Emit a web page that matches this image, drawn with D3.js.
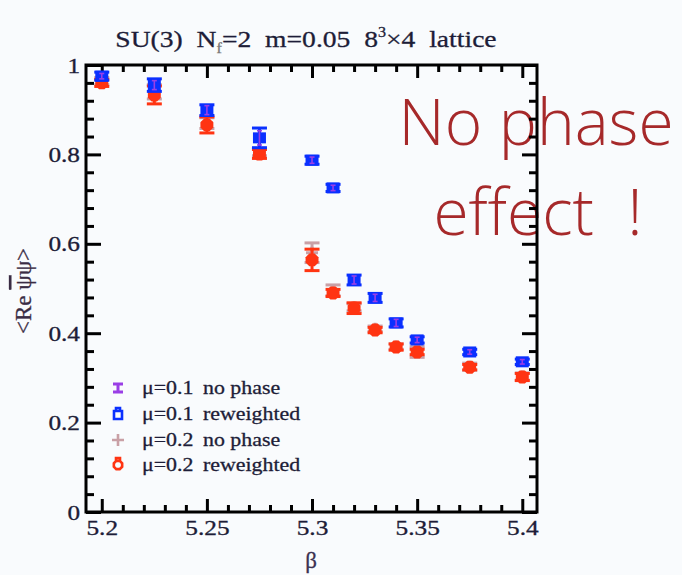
<!DOCTYPE html>
<html>
<head>
<meta charset="utf-8">
<script src="https://cdn.jsdelivr.net/npm/d3@7"></script>
<style>
  html, body { margin: 0; padding: 0; background: #f9fbfd; }
  svg { display: block; }
  text { font-family: "Liberation Serif", "Times New Roman", serif; }
</style>
</head>
<body>
<svg id="chart" width="682" height="575"></svg>
<script>
// Chiral condensate vs beta, SU(3) Nf=2, m=0.05, 8^3x4 lattice
const betas = [5.2, 5.225, 5.25, 5.275, 5.3, 5.31, 5.32, 5.33, 5.34, 5.35, 5.375, 5.4];

const mu01NoPhase    = [0.975, 0.955, 0.899, 0.837, 0.787, 0.725, 0.519, 0.479, 0.423, 0.385, 0.358, 0.336];
const mu01NoPhaseErr = [0.006, 0.010, 0.010, 0.016, 0.007, 0.006, 0.009, 0.008, 0.008, 0.006, 0.005, 0.005];
const mu01Rew        = [0.975, 0.955, 0.899, 0.837, 0.787, 0.725, 0.519, 0.479, 0.423, 0.385, 0.358, 0.336];
const mu01RewErr     = [0.009, 0.014, 0.012, 0.022, 0.009, 0.008, 0.011, 0.010, 0.009, 0.007, 0.006, 0.006];

const mu02NoPhase    = [0.964, 0.940, 0.870, 0.805, 0.580, 0.496, 0.458, 0.410, 0.370, 0.358, 0.325, 0.303];
const mu02NoPhaseErr = [0.008, 0.016, 0.012, 0.008, 0.022, 0.012, 0.008, 0.006, 0.006, 0.012, 0.008, 0.008];
const mu02Rew        = [0.960, 0.933, 0.866, 0.801, 0.564, 0.490, 0.456, 0.407, 0.369, 0.358, 0.324, 0.302];
const mu02RewErr     = [0.008, 0.020, 0.018, 0.010, 0.024, 0.008, 0.012, 0.006, 0.007, 0.006, 0.006, 0.008];

const xTicks = [5.2, 5.25, 5.3, 5.35, 5.4];
const xTickLabels = ["5.2", "5.25", "5.3", "5.35", "5.4"];
const yTicks = [0, 0.2, 0.4, 0.6, 0.8, 1];
const yTickLabels = ["0", "0.2", "0.4", "0.6", "0.8", "1"];
const legendMu = ["\u03bc=0.1", "\u03bc=0.1", "\u03bc=0.2", "\u03bc=0.2"];
const legendKind = ["no phase", "reweighted", "no phase", "reweighted"];

const C = {
  purple: "#9a3ee6",
  blue: "#0a30ff",
  pink: "#c9a0a6",
  red: "#ff3412",
  ink: "#1d1d38",
  note: "#a6292a"
};

const svg = d3.select("#chart");
const x = d3.scaleLinear().domain([5.1925, 5.407]).range([86, 537]);
const y = d3.scaleLinear().domain([0, 1]).range([512, 65]);

// Title
const title = svg.append("text")
  .attr("class", "st")
  .attr("x", 306).attr("y", 47)
  .attr("text-anchor", "middle")
  .attr("font-size", 24)
  .attr("fill", C.ink)
  .attr("stroke", C.ink).attr("stroke-width", 0.3)
  .style("white-space", "pre");
title.append("tspan").text("SU(3)  N");
title.append("tspan").attr("font-size", 14).attr("dy", 6).attr("fill", "#777").attr("stroke", "#777").text("f");
title.append("tspan").attr("dy", -6).text("=2  m=0.05  8");
title.append("tspan").attr("font-size", 14).attr("dy", -10).text("3");
title.append("tspan").attr("dy", 10).text("\u00d74  lattice");

// Annotation (drawn under the frame)
svg.append("text")
  .attr("x", 536).attr("y", 145)
  .attr("text-anchor", "middle")
  .style("font-family", "'Open Sans', 'Noto Sans', sans-serif")
  .attr("font-weight", 300)
  .attr("font-size", 64)
  .attr("fill", C.note)
  .text("No phase");
svg.append("text")
  .attr("x", 538).attr("y", 235)
  .attr("text-anchor", "middle")
  .style("font-family", "'Open Sans', 'Noto Sans', sans-serif")
  .attr("font-weight", 300)
  .attr("font-size", 64)
  .attr("fill", C.note)
  .style("white-space", "pre")
  .text("effect  !");

// Axes: major and minor inward ticks on all four sides
const xMinor = d3.range(5.2, 5.4001, 0.01).filter(v => !xTicks.some(t => Math.abs(t - v) < 1e-6));
const yMinor = d3.range(0, 1.0001, 0.04).filter(v => !yTicks.some(t => Math.abs(t - v) < 1e-6));

function styleAxis(g) {
  g.select(".domain").remove();
  g.selectAll(".tick line").attr("stroke", "#000").attr("stroke-width", 3);
  g.selectAll(".tick text")
    .attr("class", "st")
    .attr("fill", C.ink)
    .attr("stroke", C.ink).attr("stroke-width", 0.35)
    .attr("font-size", 22)
    .style("font-family", "'Liberation Serif', serif");
}

const bottom = svg.append("g").attr("transform", "translate(0,512)")
  .call(d3.axisBottom(x).tickValues(xTicks).tickFormat((d, i) => xTickLabels[i])
    .tickSizeInner(-13).tickSizeOuter(0).tickPadding(7));
styleAxis(bottom);
svg.append("g").attr("transform", "translate(0,512)")
  .call(d3.axisBottom(x).tickValues(xMinor).tickFormat("").tickSizeInner(-7).tickSizeOuter(0))
  .call(styleAxis);
svg.append("g").attr("transform", "translate(0,65)")
  .call(d3.axisTop(x).tickValues(xTicks).tickFormat("").tickSizeInner(-13).tickSizeOuter(0))
  .call(styleAxis);
svg.append("g").attr("transform", "translate(0,65)")
  .call(d3.axisTop(x).tickValues(xMinor).tickFormat("").tickSizeInner(-7).tickSizeOuter(0))
  .call(styleAxis);

const left = svg.append("g").attr("transform", "translate(86,0)")
  .call(d3.axisLeft(y).tickValues(yTicks).tickFormat((d, i) => yTickLabels[i])
    .tickSizeInner(-15).tickSizeOuter(0).tickPadding(6));
styleAxis(left);
svg.append("g").attr("transform", "translate(86,0)")
  .call(d3.axisLeft(y).tickValues(yMinor).tickFormat("").tickSizeInner(-8).tickSizeOuter(0))
  .call(styleAxis);
svg.append("g").attr("transform", "translate(537,0)")
  .call(d3.axisRight(y).tickValues(yTicks).tickFormat("").tickSizeInner(-15).tickSizeOuter(0))
  .call(styleAxis);
svg.append("g").attr("transform", "translate(537,0)")
  .call(d3.axisRight(y).tickValues(yMinor).tickFormat("").tickSizeInner(-8).tickSizeOuter(0))
  .call(styleAxis);

svg.append("rect")
  .attr("x", x.range()[0]).attr("y", y.range()[1])
  .attr("width", x.range()[1] - x.range()[0])
  .attr("height", y.range()[0] - y.range()[1])
  .attr("fill", "none").attr("stroke", "#000").attr("stroke-width", 3);

// Axis titles
const yl = svg.append("text")
  .attr("transform", "translate(31,291) rotate(-90)")
  .attr("text-anchor", "middle")
  .attr("font-size", 23)
  .attr("fill", "#3a2c44")
  .attr("stroke", "#3a2c44").attr("stroke-width", 0.3)
  .style("white-space", "pre");
yl.append("tspan").text("<Re ");
yl.append("tspan").style("text-decoration", "overline").text("\u03c8");
yl.append("tspan").text("\u03c8>");

svg.append("text")
  .attr("x", 311).attr("y", 568)
  .attr("text-anchor", "middle")
  .attr("font-size", 23)
  .attr("fill", "#3a3050")
  .attr("stroke", "#3a3050").attr("stroke-width", 0.3)
  .text("\u03b2");

// Data marks
const plot = svg.append("g");

function errorBars(vals, errs, color, capW, sw) {
  const g = plot.append("g").attr("stroke", color).attr("stroke-width", sw).attr("fill", "none");
  betas.forEach((b, i) => {
    const cx = x(b), y0 = y(vals[i] - errs[i]), y1 = y(vals[i] + errs[i]);
    g.append("line").attr("x1", cx).attr("x2", cx).attr("y1", y0).attr("y2", y1);
    g.append("line").attr("x1", cx - capW / 2).attr("x2", cx + capW / 2).attr("y1", y0).attr("y2", y0);
    g.append("line").attr("x1", cx - capW / 2).attr("x2", cx + capW / 2).attr("y1", y1).attr("y2", y1);
  });
}

function octagon(r) {
  const pts = d3.range(8).map(k => {
    const a = Math.PI / 8 + k * Math.PI / 4;
    return [r * Math.cos(a), r * Math.sin(a)];
  });
  return "M" + pts.map(p => p.join(",")).join("L") + "Z";
}

// mu=0.2 no phase (behind)
errorBars(mu02NoPhase, mu02NoPhaseErr, C.pink, 15, 3);
plot.append("g").selectAll("path").data(betas).join("path")
  .attr("transform", (b, i) => `translate(${x(b)},${y(mu02NoPhase[i])})`)
  .attr("d", "M-6,0H6M0,-6V6")
  .attr("stroke", C.pink).attr("stroke-width", 3);

// mu=0.2 reweighted
errorBars(mu02Rew, mu02RewErr, C.red, 15, 3);
plot.append("g").selectAll("path").data(betas).join("path")
  .attr("transform", (b, i) => `translate(${x(b)},${y(mu02Rew[i])})`)
  .attr("d", octagon(7))
  .attr("fill", C.red);

// mu=0.1 reweighted
errorBars(mu01Rew, mu01RewErr, C.blue, 15, 3);
plot.append("g").selectAll("rect").data(betas).join("rect")
  .attr("x", b => x(b) - 6.5)
  .attr("y", (b, i) => y(mu01Rew[i]) - 5.5)
  .attr("width", 13).attr("height", 11)
  .attr("fill", C.blue);

// mu=0.1 no phase (small, on top)
errorBars(mu01NoPhase, mu01NoPhaseErr, C.purple, 5, 1.6);

// Legend
const legendY = [388, 414, 440, 465];
const lg = svg.append("g");
lg.append("path").attr("transform", `translate(118,${legendY[0]})`)
  .attr("d", "M-5,-4H5M0,-4V4M-5,4H5").attr("stroke", C.purple).attr("stroke-width", 3).attr("fill", "none");
lg.append("path").attr("transform", `translate(118,${legendY[1]})`)
  .attr("d", "M-4,-3H4V5H-4Z M-2,-3V-6H2V-3").attr("stroke", C.blue).attr("stroke-width", 2.6).attr("fill", "none");
lg.append("path").attr("transform", `translate(118,${legendY[2]})`)
  .attr("d", "M-6,0H6M0,-6V6").attr("stroke", C.pink).attr("stroke-width", 2.6).attr("fill", "none");
lg.append("path").attr("transform", `translate(118,${legendY[3]})`)
  .attr("d", octagon(4.5) + " M-2,-4V-7H2V-4").attr("stroke", C.red).attr("stroke-width", 2.6).attr("fill", "none");

legendY.forEach((ly, i) => {
  lg.append("text").attr("class", "st").attr("x", 142).attr("y", ly + 6)
    .attr("font-size", 19).attr("fill", C.ink)
    .attr("stroke", C.ink).attr("stroke-width", 0.3).text(legendMu[i]);
  lg.append("text").attr("class", "st").attr("x", 203).attr("y", ly + 6)
    .attr("font-size", 19).attr("fill", C.ink)
    .attr("stroke", C.ink).attr("stroke-width", 0.3).text(legendKind[i]);
});

// Widen serif labels horizontally
svg.selectAll("text.st").each(function () {
  const w = this.getComputedTextLength();
  if (w > 0) {
    this.setAttribute("textLength", (w * 1.15).toFixed(1));
    this.setAttribute("lengthAdjust", "spacingAndGlyphs");
  }
});
</script>
</body>
</html>
